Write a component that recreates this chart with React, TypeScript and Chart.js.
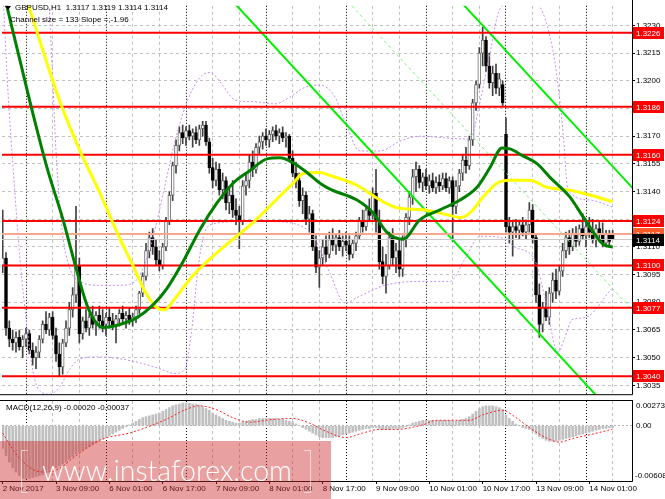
import React, { useEffect, useRef } from "react";
import { Chart, registerables } from "chart.js";

Chart.register(...registerables);

// ---------------- data ----------------
const dateLabels = ["2 Nov 2017", "3 Nov 09:00", "6 Nov 01:00", "6 Nov 17:00", "7 Nov 09:00", "8 Nov 01:00", "8 Nov 17:00", "9 Nov 09:00", "10 Nov 01:00", "10 Nov 17:00", "13 Nov 09:00", "14 Nov 01:00"];
const dateLabelBars = [0, 16, 32, 48, 64, 80, 96, 112, 128, 144, 160, 176];
const gridBars = [7, 15, 23, 31, 39, 47, 55, 63, 71, 79, 87, 95, 103, 111, 119, 127, 135, 143, 151, 159, 167, 175, 183];
const daySeparatorBars = [7, 31, 55, 79, 103, 127, 151, 175];
const priceTicks = [1.3035, 1.305, 1.3065, 1.308, 1.3095, 1.311, 1.3125, 1.314, 1.3155, 1.317, 1.3185, 1.32, 1.3215, 1.323];
const levelPrices = [1.3226, 1.3186, 1.316, 1.3124, 1.31, 1.3077, 1.304];
const askPrice = 1.3117;
const bidPrice = 1.3114;
const headerText = "GBPUSD,H1  1.3117 1.3119 1.3114 1.3114";
const channelText = "Channel size = 133 Slope =;-1.96";
const macdText = "MACD(12,26,9) -0.00020 -0.00037";
const macdMax = 0.00273;
const macdMin = -0.00608;

const opens = [1.3100,1.3104,1.3066,1.3060,1.3058,1.3061,1.3056,1.3060,1.3063,1.3054,
1.3050,1.3053,1.3060,1.3068,1.3065,1.3072,1.3062,1.3052,1.3045,1.3058,
1.3066,1.3076,1.3084,1.3100,1.3063,1.3070,1.3066,1.3072,1.3068,1.3073,
1.3070,1.3068,1.3072,1.3070,1.3067,1.3071,1.3074,1.3071,1.3073,1.3070,
1.3072,1.3076,1.3085,1.3094,1.3108,1.3115,1.3110,1.3103,1.3100,1.3110,
1.3124,1.3138,1.3154,1.3165,1.3172,1.3169,1.3173,1.3170,1.3172,1.3168,
1.3174,1.3176,1.3167,1.3153,1.3146,1.3152,1.3141,1.3146,1.3134,1.3138,
1.3130,1.3127,1.3124,1.3143,1.3146,1.3156,1.3152,1.3164,1.3167,1.3170,
1.3168,1.3171,1.3173,1.3170,1.3172,1.3169,1.3170,1.3158,1.3150,1.3146,
1.3135,1.3138,1.3125,1.3128,1.3110,1.3099,1.3104,1.3110,1.3106,1.3114,
1.3111,1.3115,1.3110,1.3113,1.3111,1.3106,1.3112,1.3116,1.3124,1.3121,
1.3130,1.3127,1.3139,1.3124,1.3102,1.3094,1.3100,1.3115,1.3104,1.3108,
1.3098,1.3114,1.3126,1.3137,1.3148,1.3152,1.3145,1.3148,1.3143,1.3146,
1.3142,1.3145,1.3143,1.3147,1.3142,1.3146,1.3132,1.3143,1.3150,1.3157,
1.3154,1.3168,1.3188,1.3198,1.3215,1.3222,1.3208,1.3199,1.3204,1.3196,
1.3198,1.3171,1.3121,1.3118,1.3121,1.3119,1.3122,1.3118,1.3122,1.3130,
1.3115,1.3084,1.3068,1.3077,1.3072,1.3085,1.3092,1.3086,1.3097,1.3108,
1.3115,1.3110,1.3117,1.3113,1.3120,1.3116,1.3121,1.3118,1.3114,1.3120,
1.3117,1.3112,1.3117,1.3117];

const highs = [1.3130,1.3107,1.3070,1.3065,1.3064,1.3065,1.3062,1.3066,1.3065,1.3058,
1.3056,1.3062,1.3070,1.3075,1.3074,1.3075,1.3066,1.3058,1.3060,1.3070,
1.3080,1.3088,1.3132,1.3104,1.3072,1.3076,1.3074,1.3078,1.3075,1.3078,
1.3076,1.3074,1.3077,1.3074,1.3073,1.3076,1.3078,1.3075,1.3077,1.3074,
1.3078,1.3086,1.3096,1.3112,1.3118,1.3120,1.3114,1.3108,1.3112,1.3126,
1.3140,1.3156,1.3168,1.3175,1.3176,1.3175,1.3176,1.3174,1.3175,1.3176,
1.3178,1.3178,1.3169,1.3158,1.3156,1.3155,1.3150,1.3148,1.3142,1.3146,
1.3136,1.3132,1.3146,1.3150,1.3160,1.3162,1.3166,1.3170,1.3172,1.3174,
1.3173,1.3175,1.3176,1.3174,1.3175,1.3172,1.3171,1.3162,1.3156,1.3150,
1.3142,1.3140,1.3132,1.3130,1.3116,1.3108,1.3114,1.3116,1.3118,1.3120,
1.3117,1.3119,1.3116,1.3118,1.3116,1.3114,1.3118,1.3126,1.3130,1.3132,
1.3136,1.3142,1.3152,1.3130,1.3110,1.3106,1.3118,1.3120,1.3112,1.3114,
1.3116,1.3128,1.3140,1.3152,1.3156,1.3154,1.3150,1.3152,1.3149,1.3150,
1.3148,1.3149,1.3150,1.3150,1.3148,1.3148,1.3146,1.3152,1.3160,1.3164,
1.3170,1.3190,1.3200,1.3218,1.3229,1.3224,1.3215,1.3208,1.3209,1.3204,
1.3200,1.3180,1.3126,1.3124,1.3125,1.3124,1.3126,1.3124,1.3134,1.3133,
1.3117,1.3090,1.3080,1.3086,1.3088,1.3096,1.3098,1.3100,1.3112,1.3118,
1.3119,1.3120,1.3121,1.3122,1.3128,1.3124,1.3126,1.3125,1.3122,1.3124,
1.3123,1.3119,1.3119,1.3119];

const lows = [1.3096,1.3062,1.3056,1.3054,1.3053,1.3054,1.3050,1.3056,1.3052,1.3046,
1.3044,1.3050,1.3058,1.3063,1.3062,1.3060,1.3048,1.3040,1.3041,1.3056,
1.3062,1.3072,1.3080,1.3058,1.3060,1.3064,1.3062,1.3066,1.3062,1.3066,
1.3064,1.3062,1.3066,1.3065,1.3058,1.3067,1.3069,1.3066,1.3068,1.3067,
1.3069,1.3074,1.3083,1.3092,1.3104,1.3106,1.3100,1.3097,1.3098,1.3108,
1.3122,1.3135,1.3150,1.3162,1.3166,1.3165,1.3168,1.3164,1.3166,1.3165,
1.3170,1.3165,1.3150,1.3142,1.3143,1.3138,1.3136,1.3130,1.3128,1.3126,
1.3122,1.3109,1.3122,1.3138,1.3142,1.3148,1.3150,1.3160,1.3163,1.3165,
1.3164,1.3167,1.3168,1.3166,1.3167,1.3164,1.3156,1.3148,1.3142,1.3132,
1.3128,1.3122,1.3118,1.3108,1.3096,1.3088,1.3100,1.3102,1.3104,1.3108,
1.3106,1.3108,1.3105,1.3108,1.3103,1.3104,1.3108,1.3114,1.3118,1.3119,
1.3124,1.3125,1.3118,1.3098,1.3090,1.3085,1.3098,1.3100,1.3096,1.3094,
1.3094,1.3110,1.3122,1.3133,1.3140,1.3142,1.3140,1.3141,1.3139,1.3140,
1.3139,1.3140,1.3141,1.3140,1.3139,1.3113,1.3128,1.3140,1.3146,1.3150,
1.3152,1.3165,1.3184,1.3196,1.3208,1.3205,1.3196,1.3192,1.3193,1.3192,
1.3186,1.3118,1.3112,1.3105,1.3115,1.3114,1.3116,1.3114,1.3118,1.3112,
1.3080,1.3061,1.3064,1.3070,1.3068,1.3080,1.3082,1.3084,1.3094,1.3104,
1.3106,1.3108,1.3110,1.3111,1.3114,1.3110,1.3115,1.3112,1.3110,1.3115,
1.3110,1.3110,1.3111,1.3114];

const closes = [1.3104,1.3066,1.3060,1.3058,1.3061,1.3056,1.3060,1.3063,1.3054,1.3050,
1.3053,1.3060,1.3068,1.3065,1.3072,1.3062,1.3052,1.3045,1.3058,1.3066,
1.3076,1.3084,1.3100,1.3063,1.3070,1.3066,1.3072,1.3068,1.3073,1.3070,
1.3067,1.3072,1.3070,1.3067,1.3071,1.3074,1.3071,1.3073,1.3070,1.3072,
1.3076,1.3085,1.3094,1.3108,1.3115,1.3110,1.3103,1.3100,1.3110,1.3124,
1.3138,1.3154,1.3165,1.3172,1.3169,1.3173,1.3170,1.3172,1.3168,1.3174,
1.3176,1.3167,1.3153,1.3146,1.3152,1.3141,1.3146,1.3134,1.3138,1.3130,
1.3127,1.3124,1.3143,1.3146,1.3156,1.3152,1.3164,1.3167,1.3170,1.3168,
1.3171,1.3173,1.3170,1.3172,1.3169,1.3170,1.3158,1.3150,1.3146,1.3135,
1.3138,1.3125,1.3128,1.3110,1.3099,1.3104,1.3110,1.3106,1.3114,1.3111,
1.3115,1.3110,1.3113,1.3111,1.3106,1.3112,1.3116,1.3124,1.3121,1.3130,
1.3127,1.3139,1.3124,1.3102,1.3094,1.3100,1.3115,1.3104,1.3108,1.3098,
1.3114,1.3126,1.3137,1.3148,1.3152,1.3145,1.3148,1.3143,1.3146,1.3142,
1.3145,1.3143,1.3147,1.3142,1.3146,1.3132,1.3143,1.3150,1.3157,1.3154,
1.3168,1.3188,1.3198,1.3215,1.3222,1.3208,1.3199,1.3204,1.3196,1.3201,
1.3188,1.3121,1.3118,1.3121,1.3119,1.3122,1.3118,1.3122,1.3130,1.3115,
1.3084,1.3068,1.3077,1.3072,1.3085,1.3092,1.3086,1.3097,1.3108,1.3115,
1.3110,1.3117,1.3113,1.3120,1.3116,1.3121,1.3118,1.3114,1.3120,1.3117,
1.3112,1.3117,1.3113,1.3114];

// [bar index, price]
const greenMA = [[0,1.3250],[8.2,1.31886],[13.3,1.3153],[18.1,1.31248],[22.3,1.30966],[25.6,1.3077],[30.1,1.30664],[35.2,1.3068],[40.3,1.30717],[45.1,1.30786],[49.3,1.30876],[54.1,1.3102],[59.2,1.31195],[64.3,1.31338],[69.1,1.31445],[74.2,1.31514],[79.3,1.31577],[83.2,1.31583],[87.1,1.31556],[91.3,1.31503],[95.2,1.31445],[98.2,1.31413],[106.3,1.31354],[111.1,1.31285],[115.3,1.31179],[120.1,1.31142],[125.2,1.31248],[131.2,1.31301],[137.2,1.31354],[142.3,1.31423],[146.2,1.3153],[149.8,1.31636],[152.2,1.31631],[156.1,1.31593],[160.3,1.31551],[164.2,1.31477],[170.2,1.3137],[174.1,1.31264],[180.1,1.31115],[183,1.31099]];
const yellowMA = [[0,1.32834],[7.6,1.32417],[17.2,1.31886],[23.2,1.3162],[29.2,1.31391],[34.3,1.31179],[39.1,1.30998],[43.3,1.30839],[46.3,1.3077],[48.7,1.30759],[51.1,1.30807],[57.1,1.30945],[62.2,1.31035],[69.1,1.31142],[75.1,1.31232],[81.1,1.31338],[87.1,1.31445],[90.1,1.31498],[95.2,1.31503],[98.2,1.31487],[106.3,1.31434],[113.2,1.31354],[118.3,1.31312],[126.1,1.31301],[133.3,1.31275],[137.2,1.31259],[140.2,1.31285],[144.1,1.3137],[148.3,1.31445],[152.2,1.31461],[158.2,1.31461],[163.3,1.31423],[170.2,1.31407],[176.2,1.31381],[183,1.31344]];
const upperBand = [[13.6,1.32523],[14.8,1.32098],[16,1.3162],[17.8,1.31195],[20.2,1.30982],[23.2,1.30913],[29.2,1.30892],[35.2,1.30892],[39.7,1.30913],[42.7,1.31009],[45.7,1.31195],[48.7,1.31434],[51.7,1.31673],[55.3,1.31886],[59.2,1.32018],[62.2,1.32045],[65.8,1.31981],[69.7,1.31896],[75.7,1.31886],[81.7,1.31875],[86.2,1.31912],[90.7,1.31965],[95.2,1.31976],[99.7,1.31912],[102.7,1.31779],[107.2,1.3162],[113.2,1.3162],[119.2,1.31673],[125.2,1.317],[134.2,1.31689],[140.2,1.31684],[143.2,1.31886],[146.2,1.32151],[149.2,1.3239],[155.2,1.32443],[160.3,1.32417],[162.7,1.32337],[165.7,1.32098],[168.1,1.31726],[169.6,1.31407],[176.2,1.31354],[182.8,1.31317]];
const lowerBand = [[0,1.3252],[1.6,1.31939],[3.4,1.31461],[5.2,1.31035],[7.3,1.30664],[9.1,1.30424],[11.2,1.30318],[14.2,1.30302],[17.2,1.30345],[20.2,1.3044],[23.2,1.30494],[29.2,1.30504],[35.2,1.30494],[41.2,1.30472],[47.2,1.3044],[51.7,1.30414],[54.7,1.3044],[56.8,1.30664],[58.6,1.30982],[60.7,1.31184],[63.7,1.31227],[71.2,1.31237],[80.2,1.31237],[89.2,1.31216],[93.7,1.31142],[98.2,1.30956],[102.7,1.30796],[107.2,1.30834],[114.7,1.30892],[125.2,1.30913],[134.2,1.30913],[138.7,1.31035],[143.2,1.31158],[149.2,1.31152],[153.7,1.31099],[159.7,1.31025],[162.7,1.30823],[166.6,1.30531],[168.7,1.3061],[170.8,1.30706],[174.7,1.30717],[182.8,1.30876]];
const channelUpper = [[130,1.32574],[190,1.31399]];
const channelLower = [[60,1.32607],[190,1.30062]];
const channelMiddle = [[95,1.32597],[190,1.30737]];

const macdMain = [-0.0025,-0.0033,-0.0040,-0.0046,-0.0051,-0.0055,-0.0058,-0.0058,-0.0058,-0.0057,
-0.0056,-0.0055,-0.0054,-0.0052,-0.0050,-0.0048,-0.0046,-0.0044,-0.0042,-0.0040,
-0.0037,-0.0034,-0.0031,-0.0029,-0.0027,-0.0025,-0.0023,-0.0021,-0.0019,-0.0017,
-0.0015,-0.0013,-0.0011,-0.0009,-0.0007,-0.0005,-0.0003,-0.0001,0.0001,0.0003,
0.0005,0.0007,0.0009,0.0010,0.0011,0.0012,0.0013,0.0014,0.0016,0.0018,
0.0020,0.0022,0.0023,0.0024,0.0025,0.0025,0.0025,0.0024,0.0024,0.0023,
0.0021,0.0019,0.0017,0.0014,0.0012,0.0010,0.0008,0.0006,0.0005,0.0004,
0.0003,0.0003,0.0004,0.0005,0.0006,0.0007,0.0007,0.0008,0.0008,0.0008,
0.0008,0.0008,0.0008,0.0007,0.0007,0.0006,0.0005,0.0004,0.0002,0.0000,
-0.0002,-0.0004,-0.0006,-0.0008,-0.0010,-0.0012,-0.0013,-0.0013,-0.0013,-0.0013,
-0.0012,-0.0011,-0.0010,-0.0009,-0.0008,-0.0007,-0.0006,-0.0005,-0.0004,-0.0003,
-0.0003,-0.0002,-0.0002,-0.0003,-0.0004,-0.0004,-0.0004,-0.0003,-0.0003,-0.0003,
-0.0002,-0.0001,0.0001,0.0003,0.0004,0.0005,0.0006,0.0006,0.0006,0.0006,
0.0006,0.0006,0.0006,0.0006,0.0006,0.0005,0.0005,0.0006,0.0007,0.0008,
0.0010,0.0013,0.0016,0.0019,0.0021,0.0022,0.0022,0.0022,0.0021,0.0020,
0.0018,0.0012,0.0008,0.0005,0.0002,0.0000,-0.0002,-0.0003,-0.0004,-0.0006,
-0.0009,-0.0012,-0.0014,-0.0016,-0.0017,-0.0017,-0.0017,-0.0016,-0.0015,-0.0014,
-0.0013,-0.0012,-0.0011,-0.0010,-0.0009,-0.0008,-0.0007,-0.0006,-0.0005,-0.0004,
-0.0003,-0.0003,-0.0002,-0.0002];

const macdSignal = [[0,-0.0008],[4,-0.0031],[9,-0.0048],[13,-0.0051],[17,-0.0047],[22,-0.0033],[29,-0.0016],[39,-0.0007],[49,0.0007],[55,0.0018],[59,0.0022],[64,0.0018],[69,0.0009],[74,0.0004],[81,0.0007],[87,0.0008],[92,0.0003],[97,-0.0006],[103,-0.0013],[108,-0.0008],[113,-0.0004],[118,-0.0004],[126,0.0001],[130,0.0006],[140,0.0006],[144,0.0012],[150,0.0017],[154,0.0009],[158,-0.0002],[163,-0.0013],[167,-0.0018],[171,-0.0014],[176,-0.0010],[183,-0.00037]];

// ---------------- helpers ----------------
function fontAvailable(name: string): boolean {
  try {
    const c = document.createElement("canvas").getContext("2d");
    if (!c) return false;
    const s = "mmmmmmmmmmlli1.0WWWabc";
    c.font = "32px monospace";
    const a = c.measureText(s).width;
    c.font = `32px "${name}", monospace`;
    const b = c.measureText(s).width;
    return a !== b;
  } catch (e) {
    return false;
  }
}

const X_MIN = -0.2;
const X_MAX = 188.8;
const Y_MIN = 1.303021;
const Y_MAX = 1.324063;

export default function App() {
  const mainRef = useRef<HTMLCanvasElement | null>(null);
  const macdRef = useRef<HTMLCanvasElement | null>(null);

  useEffect(() => {
    const narrow = fontAvailable("Liberation Sans Narrow");
    const family = narrow ? '"Liberation Sans Narrow", "Liberation Sans", sans-serif' : '"Liberation Sans", Arial, sans-serif';
    const size = narrow ? 10 : 8;
    const font = { family, size, lineHeight: 1.2 };
    const fontStr = `${size}px ${family}`;

    const isSep = (ctx: any) => ctx && ctx.tick && daySeparatorBars.includes(ctx.tick.value);
    const gridColor = (ctx: any) => (isSep(ctx) ? "#000000" : "#c0c0c0");
    const gridDash = (ctx: any) => (isSep(ctx) ? [1, 2] : [3, 3]);
    const bull = (i: number) => closes[i] >= opens[i];

    const lineDs = (pts: number[][], color: string, width: number, extra: any = {}) => ({
      type: "line",
      data: pts.map(([x, y]) => ({ x, y })),
      borderColor: color,
      borderWidth: width,
      pointRadius: 0,
      fill: false,
      clip: 0,
      xAxisID: "x",
      yAxisID: "y",
      ...extra,
    });

    const mainDeco = {
      id: "mainDeco",
      afterDraw(chart: any) {
        const { ctx, chartArea: a } = chart;
        const y = chart.scales.y;
        ctx.save();
        ctx.setLineDash([]);
        ctx.strokeStyle = "#000";
        ctx.lineWidth = 1;
        ctx.beginPath();
        ctx.moveTo(0, a.bottom + 0.5);
        ctx.lineTo(a.right + 0.5, a.bottom + 0.5);
        ctx.moveTo(a.right + 0.5, 0);
        ctx.lineTo(a.right + 0.5, a.bottom + 0.5);
        ctx.stroke();
        ctx.font = fontStr;
        ctx.textBaseline = "middle";
        ctx.textAlign = "left";
        const tag = (p: number, bg: string, fg: string) => {
          const py = Math.round(y.getPixelForValue(p));
          ctx.fillStyle = bg;
          ctx.fillRect(a.right + 1, py - 6, 31, 12);
          ctx.fillStyle = fg;
          ctx.fillText(p.toFixed(4), a.right + 4, py + 0.5);
        };
        levelPrices.forEach((p) => tag(p, "#ff0000", "#ffffff"));
        tag(askPrice, "#ff5a28", "#ffffff");
        tag(bidPrice, "#000000", "#ffffff");
        ctx.fillStyle = "#000";
        ctx.fillText(headerText, 15, 8);
        ctx.fillText(channelText, 10, 20);
        ctx.beginPath();
        ctx.moveTo(5, 6);
        ctx.lineTo(11, 6);
        ctx.lineTo(8, 10);
        ctx.closePath();
        ctx.fill();
        ctx.restore();
      },
    };

    const main = new Chart(mainRef.current as HTMLCanvasElement, {
      type: "bar",
      data: {
        datasets: [
          {
            type: "bar",
            data: opens.map((_, i) => ({ x: i, y: [lows[i], highs[i]] })),
            backgroundColor: "#404040",
            borderWidth: 0,
            barThickness: 1,
            grouped: false,
            order: 20,
            xAxisID: "x",
            yAxisID: "y",
          } as any,
          {
            type: "bar",
            data: opens.map((_, i) => ({ x: i, y: [opens[i], closes[i]] })),
            backgroundColor: (c: any) => (bull(c.dataIndex) ? "#ffffff" : "#000000"),
            borderColor: (c: any) => (bull(c.dataIndex) ? "#6a6a6a" : "#000000"),
            borderWidth: 1,
            borderSkipped: false,
            barThickness: 3,
            minBarLength: 1,
            grouped: false,
            order: 19,
            xAxisID: "x",
            yAxisID: "y",
          } as any,
          lineDs(lowerBand, "#c68ef0", 1, { borderDash: [2, 2], cubicInterpolationMode: "monotone", order: 15 }),
          lineDs(upperBand, "#c68ef0", 1, { borderDash: [2, 2], cubicInterpolationMode: "monotone", order: 15 }),
          lineDs(channelMiddle, "#7cf07c", 1, { borderDash: [3, 3], order: 14 }),
          lineDs(channelUpper, "#00f000", 2, { order: 13 }),
          lineDs(channelLower, "#00f000", 2, { order: 13 }),
          ...levelPrices.map((p) => lineDs([[X_MIN, p], [X_MAX, p]], "#ff0000", 2, { order: 12 })),
          lineDs([[X_MIN, askPrice], [X_MAX, askPrice]], "#f8a88a", 2, { order: 12 }),
          lineDs([[X_MIN, bidPrice], [X_MAX, bidPrice]], "#c8c8c8", 1, { order: 12 }),
          lineDs(yellowMA, "#ffff00", 3, { cubicInterpolationMode: "monotone", order: 11 }),
          lineDs(greenMA, "#008000", 3, { cubicInterpolationMode: "monotone", order: 10 }),
        ] as any,
      },
      options: {
        responsive: false,
        animation: false,
        events: [],
        layout: { padding: { left: 2, top: 2, right: 0, bottom: 2 } },
        plugins: { legend: { display: false }, tooltip: { enabled: false } },
        scales: {
          x: {
            type: "linear",
            min: X_MIN,
            max: X_MAX,
            offset: false,
            position: "bottom",
            bounds: "data",
            afterBuildTicks: (s: any) => {
              s.ticks = gridBars.map((v) => ({ value: v }));
            },
            afterFit: (s: any) => {
              s.height = 0;
            },
            ticks: { display: false },
            grid: { offset: false, color: gridColor, drawTicks: false, lineWidth: 1 },
            border: { display: false, dash: gridDash },
          },
          y: {
            type: "linear",
            position: "right",
            min: Y_MIN,
            max: Y_MAX,
            bounds: "data",
            afterBuildTicks: (s: any) => {
              s.ticks = priceTicks.map((v) => ({ value: v }));
            },
            afterFit: (s: any) => {
              s.width = 33;
            },
            ticks: { font, color: "#000000", padding: 1, autoSkip: false, callback: (v: any) => Number(v).toFixed(4) },
            grid: { color: "#c0c0c0", drawTicks: true, tickLength: 3, tickColor: "#000000", tickWidth: 1 },
            border: { display: false, dash: [3, 3] },
          },
        },
      } as any,
      plugins: [mainDeco],
    });

    const macdDeco = {
      id: "macdDeco",
      afterDraw(chart: any) {
        const { ctx, chartArea: a } = chart;
        const y = chart.scales.y;
        ctx.save();
        ctx.setLineDash([]);
        ctx.strokeStyle = "#000";
        ctx.lineWidth = 1;
        ctx.beginPath();
        ctx.moveTo(0, a.top - 0.5);
        ctx.lineTo(a.right + 0.5, a.top - 0.5);
        ctx.moveTo(0, a.bottom + 0.5);
        ctx.lineTo(a.right + 0.5, a.bottom + 0.5);
        ctx.moveTo(a.right + 0.5, 0);
        ctx.lineTo(a.right + 0.5, a.bottom + 0.5);
        ctx.stroke();
        ctx.font = fontStr;
        ctx.textBaseline = "middle";
        ctx.textAlign = "left";
        ctx.fillStyle = "#000";
        ctx.fillText(macdText, 6, a.top + 7);
        ctx.fillText(macdMax.toFixed(5), a.right + 4, a.top + 5);
        ctx.fillText("0.00", a.right + 4, Math.round(y.getPixelForValue(0)));
        ctx.fillText(macdMin.toFixed(5), a.right + 3, a.bottom - 5);
        ctx.restore();
      },
    };

    const macd = new Chart(macdRef.current as HTMLCanvasElement, {
      type: "bar",
      data: {
        datasets: [
          {
            type: "line",
            data: macdSignal.map(([x, y]) => ({ x, y })),
            borderColor: "#ff2020",
            borderWidth: 1,
            borderDash: [2, 2],
            pointRadius: 0,
            cubicInterpolationMode: "monotone",
            clip: 0,
            order: 1,
            xAxisID: "x",
            yAxisID: "y",
          },
          {
            type: "bar",
            data: macdMain.map((v, i) => ({ x: i, y: v })),
            backgroundColor: "#c0c0c0",
            borderWidth: 0,
            barThickness: 2,
            grouped: false,
            order: 2,
            xAxisID: "x",
            yAxisID: "y",
          },
        ] as any,
      },
      options: {
        responsive: false,
        animation: false,
        events: [],
        layout: { padding: { left: 2, top: 1, right: 0, bottom: 0 } },
        plugins: { legend: { display: false }, tooltip: { enabled: false } },
        scales: {
          x: {
            type: "linear",
            min: X_MIN,
            max: X_MAX,
            offset: false,
            position: "bottom",
            bounds: "data",
            afterBuildTicks: (s: any) => {
              s.ticks = dateLabelBars.map((v) => ({ value: v }));
            },
            afterFit: (s: any) => {
              s.height = 18;
            },
            ticks: {
              font,
              color: "#000000",
              align: "start",
              autoSkip: false,
              maxRotation: 0,
              minRotation: 0,
              padding: 0,
              callback: (_v: any, idx: number) => dateLabels[idx],
            },
            grid: { drawOnChartArea: false, drawTicks: true, tickLength: 3, tickColor: "#000000", offset: false },
            border: { display: false },
          },
          x2: {
            type: "linear",
            min: X_MIN,
            max: X_MAX,
            offset: false,
            position: "top",
            bounds: "data",
            afterBuildTicks: (s: any) => {
              s.ticks = gridBars.map((v) => ({ value: v }));
            },
            afterFit: (s: any) => {
              s.height = 0;
            },
            ticks: { display: false },
            grid: { offset: false, color: gridColor, drawTicks: false },
            border: { display: false, dash: gridDash },
          },
          y: {
            type: "linear",
            position: "right",
            min: macdMin,
            max: macdMax,
            bounds: "data",
            afterBuildTicks: (s: any) => {
              s.ticks = [{ value: 0 }];
            },
            afterFit: (s: any) => {
              s.width = 33;
            },
            ticks: { display: false },
            grid: { color: "#b0b0b0", drawTicks: false },
            border: { display: false, dash: [2, 2] },
          },
        },
      } as any,
      plugins: [macdDeco],
    });

    return () => {
      main.destroy();
      macd.destroy();
    };
  }, []);

  const wmFont = 'Lato, "Liberation Sans", Arial, sans-serif';
  return (
    <div style={{ position: "fixed", left: 0, top: 0, width: 665, height: 499, background: "#ffffff", overflow: "hidden" }}>
      <canvas ref={mainRef} width={665} height={400} style={{ position: "absolute", left: 0, top: 0 }} />
      <canvas ref={macdRef} width={665} height={99} style={{ position: "absolute", left: 0, top: 400 }} />
      <div
        style={{
          position: "absolute",
          left: 0,
          top: 441,
          width: 331,
          height: 58,
          background: "rgba(206,44,44,0.45)",
          overflow: "hidden",
          pointerEvents: "none",
        }}
      >
        <span style={{ position: "absolute", left: 16, top: 4, fontFamily: wmFont, fontSize: 48, lineHeight: "48px", color: "#ffffff", fontWeight: 100 }}>[</span>
        <span style={{ position: "absolute", left: 42, top: 15, fontFamily: wmFont, fontSize: 28.5, lineHeight: "29px", color: "#ffffff", fontWeight: 300, whiteSpace: "nowrap" }}>www.instaforex.com</span>
        <span style={{ position: "absolute", left: 302, top: 4, fontFamily: wmFont, fontSize: 48, lineHeight: "48px", color: "#ffffff", fontWeight: 100 }}>]</span>
      </div>
    </div>
  );
}
